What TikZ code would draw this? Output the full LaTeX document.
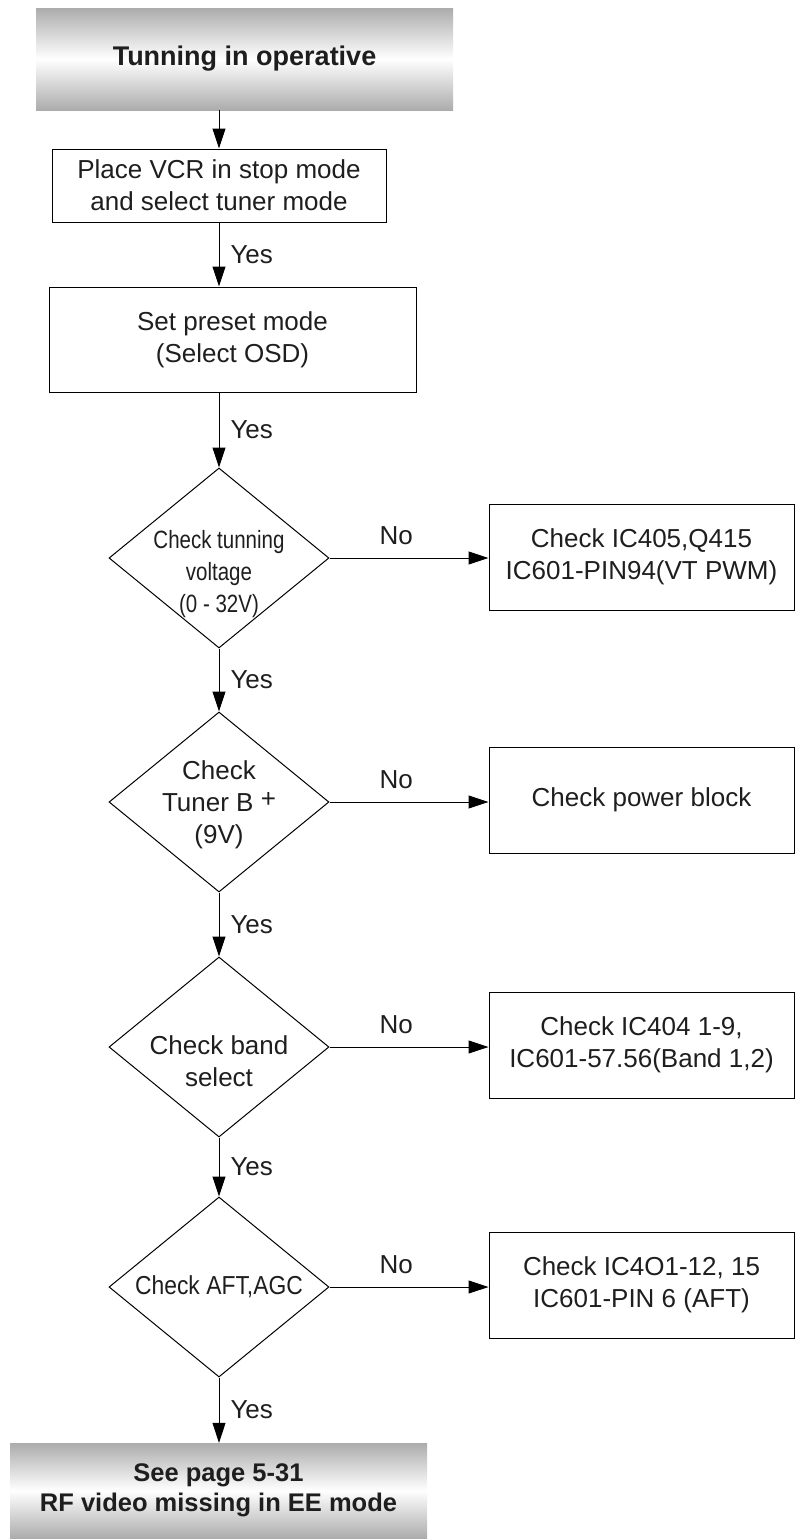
\documentclass[tikz,border=0pt]{standalone}
\usepackage{fontspec}
\setmainfont{Liberation Sans}
\newfontfamily\narrowfont[FakeStretch=0.82]{Liberation Sans}
\newfontfamily\semifont[FakeStretch=0.88]{Liberation Sans}
\usetikzlibrary{shapes.geometric, arrows.meta}
\definecolor{inkgray}{RGB}{30,30,30}
\definecolor{bandgray}{RGB}{172,172,172}

\begin{document}
\begin{tikzpicture}[x=1pt, y=-1pt,
    every node/.style={text=inkgray, font=\fontsize{26}{32}\selectfont},
    box/.style={draw, line width=1pt, align=center, inner sep=0pt},
    band/.style={top color=bandgray, bottom color=bandgray, middle color=white,
        align=center, inner sep=0pt, font=\fontsize{25.5}{30}\selectfont\bfseries},
    dia/.style={draw, diamond, line width=1pt, minimum width=220pt,
        minimum height=180pt, inner sep=0pt},
    dtext/.style={align=center, inner sep=0pt},
    arr/.style={line width=1pt, -{Triangle[length=20pt, width=13pt]}},
    yeslbl/.style={right, inner sep=0pt, xshift=11pt},
    nolbl/.style={above, inner sep=0pt, yshift=13pt, pos=0.42}]
    \useasboundingbox (0,0) rectangle (795,1539);

    % Start and end bands
    \node[band, minimum width=417pt, minimum height=102pt,
        font=\fontsize{27}{30}\selectfont\bfseries] (start) at (244.5,59)
        {Tunning in operative};
    \node[band, minimum width=417pt, minimum height=95pt] (finish) at (218.5,1490.5)
        {See page 5-31\\RF video missing in EE mode};

    % Main column
    \node[box, minimum width=334pt, minimum height=73pt] (b2) at (219,185.5)
        {Place VCR in stop mode\\and select tuner mode};
    \node[box, minimum width=367pt, minimum height=105pt] (b3) at (232.5,339.5)
        {Set preset mode\\(Select OSD)};

    % Checks
    \node[dia] (d1) at (219,558) {};
    \node[dtext, font=\narrowfont\fontsize{25}{32}\selectfont, yshift=-16pt] (d1t) at (d1)
        {Check tunning\\voltage\\(0 - 32V)};
    \node[dia] (d2) at (219,802) {};
    \node[dtext, yshift=-3pt] (d2t) at (d2)
        {Check\\Tuner B \raisebox{4pt}{+}\\(9V)};
    \node[dia] (d3) at (219,1047) {};
    \node[dtext, yshift=-14pt] (d3t) at (d3) {Check band\\select};
    \node[dia] (d4) at (219,1287) {};
    \node[dtext, font=\semifont\fontsize{26}{32}\selectfont] (d4t) at (d4) {Check AFT,AGC};

    % Repair hints
    \node[box, minimum width=305pt, minimum height=106pt] (r1) at (641.5,557)
        {Check IC405,Q415\\IC601-PIN94(VT PWM)};
    \node[box, minimum width=305pt, minimum height=106pt] (r2) at (641.5,800)
        {Check power block};
    \node[box, minimum width=305pt, minimum height=106pt] (r3) at (641.5,1045)
        {Check IC404 1-9,\\IC601-57.56(Band 1,2)};
    \node[box, minimum width=305pt, minimum height=106pt] (r4) at (641.5,1285)
        {Check IC4O1-12, 15\\IC601-PIN 6 (AFT)};

    % Connectors
    \draw[arr] (start.south -| b2) -- (b2.north);
    \foreach \a/\b in {b2/b3, b3/d1, d1/d2, d2/d3, d3/d4, d4/finish}
        \draw[arr] (\a.south -| b2) -- node[yeslbl] {Yes} (\b.north -| b2);
    \foreach \d/\r in {d1/r1, d2/r2, d3/r3, d4/r4}
        \draw[arr] (\d.east) -- node[nolbl] {No} (\d.east -| \r.west);
\end{tikzpicture}
\end{document}
